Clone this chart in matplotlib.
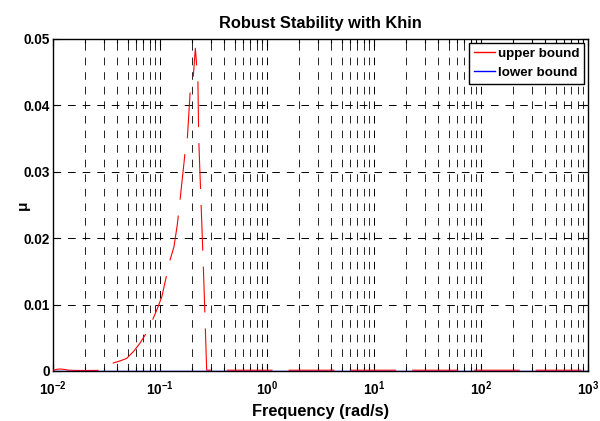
import matplotlib
matplotlib.use('Agg')
import matplotlib.pyplot as plt
from matplotlib.lines import Line2D
from matplotlib.ticker import FixedLocator, NullFormatter

plt.rcParams['font.family'] = ['Liberation Sans', 'DejaVu Sans']
plt.rcParams['font.weight'] = 'bold'
plt.rcParams['mathtext.fontset'] = 'custom'
plt.rcParams['mathtext.rm'] = 'Liberation Sans:bold'
plt.rcParams['mathtext.it'] = 'Liberation Sans:bold'
plt.rcParams['mathtext.bf'] = 'Liberation Sans:bold'
plt.rcParams['lines.scale_dashes'] = False

# ---- data ----
freq_upper = [0.0100, 0.0108, 0.0116, 0.0126, 0.0140, 0.0170, 0.0220, 0.0270,
              0.0310, 0.0364, 0.0420, 0.0488, 0.0570, 0.0650, 0.0752, 0.0863,
              0.0950, 0.1040, 0.1156, 0.1240, 0.1350, 0.1450, 0.1540, 0.1710,
              0.1800, 0.1910, 0.1970, 0.2050, 0.2140, 0.2200, 0.2260, 0.2300,
              0.2510, 0.2590, 0.2730, 0.3000, 0.5000, 1.0, 3.0, 10.0, 30.0,
              100.0, 300.0, 1000.0]
mu_upper = [0.00010, 0.00025, 0.00030, 0.00025, 0.00012, 0.00008, 0.00008, 0.00010,
            0.00050, 0.00120, 0.00150, 0.00190, 0.00300, 0.00420, 0.00580, 0.00790,
            0.00950, 0.01120, 0.01450, 0.01670, 0.01870, 0.02200, 0.02580, 0.03270,
            0.03500, 0.04180, 0.04320, 0.04450, 0.04860, 0.04610, 0.04380, 0.03500,
            0.01820, 0.01170, 0.00012, 0.00012, 0.00012, 0.00012, 0.00012, 0.00012,
            0.00012, 0.00012, 0.00012, 0.00012]
freq_lower = [0.01, 1000.0]
mu_lower = [0.0, 0.0]

series_labels = ['upper bound', 'lower bound']
y_ticks = [0, 0.01, 0.02, 0.03, 0.04, 0.05]
y_tick_labels = ['0', '0.01', '0.02', '0.03', '0.04', '0.05']
x_ticks = [1e-2, 1e-1, 1e0, 1e1, 1e2, 1e3]
x_tick_labels = [r'$\mathbf{10^{-2}}$', r'$\mathbf{10^{-1}}$', r'$\mathbf{10^{0}}$',
                 r'$\mathbf{10^{1}}$', r'$\mathbf{10^{2}}$', r'$\mathbf{10^{3}}$']
title = 'Robust Stability with Khin'
xlabel = 'Frequency (rad/s)'
ylabel = 'μ'

# ---- figure ----
fig = plt.figure(figsize=(6.0, 4.21), dpi=100)
ax = fig.add_axes([53/600, 1 - 371/421, 535/600, 332/421])

ax.plot(freq_upper, mu_upper, color='red', lw=0.8, dashes=(33, 11.5), zorder=3)
ax.plot(freq_lower, mu_lower, color='blue', lw=1.0, zorder=3)

ax.set_xscale('log')
ax.set_xlim(1e-2, 1e3)
ax.set_ylim(0, 0.05)

ax.set_xticks(x_ticks)
ax.set_xticklabels(x_tick_labels)
minor = [m * 10.0**e for e in range(-2, 3) for m in range(2, 10)]
ax.xaxis.set_minor_locator(FixedLocator(minor))
ax.xaxis.set_minor_formatter(NullFormatter())
ax.set_yticks(y_ticks)
ax.set_yticklabels(y_tick_labels)

ax.grid(which='major', axis='both', color='black', lw=0.7, dashes=(5.5, 5))
ax.grid(which='minor', axis='x', color='black', lw=0.6, dashes=(5.5, 5))

ax.tick_params(which='both', direction='in', top=True, right=True,
               labelsize=9.8, width=0.8)
ax.tick_params(axis='y', pad=2)
ax.tick_params(axis='x', pad=6)
ax.tick_params(which='major', length=5)
ax.tick_params(which='minor', length=3)
for s in ax.spines.values():
    s.set_linewidth(1.0)

ax.set_title(title, fontsize=11.8, fontweight='bold', pad=8)
ax.set_xlabel(xlabel, fontsize=11.8, fontweight='bold')
ax.xaxis.set_label_coords(0.5, -0.098)
ax.set_ylabel(ylabel, fontsize=11, fontweight='bold')
ax.yaxis.set_label_coords(-0.044, 0.5)

handles = [Line2D([], [], color='red', lw=1.0),
           Line2D([], [], color='blue', lw=1.0)]
leg = ax.legend(handles, series_labels, loc='upper right', fontsize=9.6,
                frameon=True, fancybox=False, framealpha=1, edgecolor='black',
                borderaxespad=0.3, borderpad=0.35, handlelength=1.6,
                handletextpad=0.2, labelspacing=0.5)
leg.get_frame().set_linewidth(1.0)
leg.set_zorder(5)

fig.savefig('out.png', dpi=100)
